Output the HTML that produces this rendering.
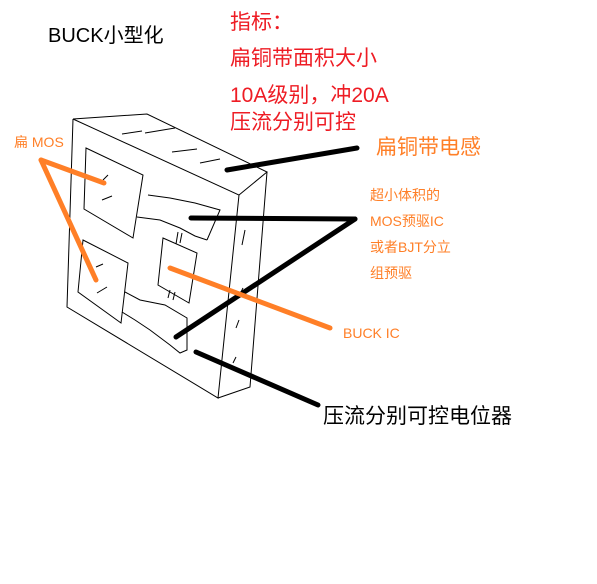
<!DOCTYPE html>
<html><head><meta charset="utf-8"><style>
html,body{margin:0;padding:0;background:#fff;}
svg{display:block;}
text{font-family:"Liberation Sans","Noto Sans CJK SC",sans-serif;}
</style></head><body>
<svg width="597" height="584" viewBox="0 0 597 584" xmlns="http://www.w3.org/2000/svg">
<rect width="597" height="584" fill="#fff"/>
<text x="48" y="42" font-size="20" fill="#000">BUCK小型化</text>
<g fill="#ee1c24" font-size="21">
<text x="230" y="29">指标：</text>
<text x="230" y="65">扁铜带面积大小</text>
<text x="230" y="102">10A级别，冲20A</text>
<text x="230" y="129">压流分别可控</text>
</g>
<g fill="#ff7f27">
<text x="376" y="154" font-size="21">扁铜带电感</text>
<text x="370" y="200" font-size="14">超小体积的</text>
<text x="370" y="226" font-size="14">MOS预驱IC</text>
<text x="370" y="252" font-size="14">或者BJT分立</text>
<text x="370" y="278" font-size="14">组预驱</text>
<text x="14" y="147" font-size="14">扁 MOS</text>
<text x="343" y="338" font-size="14">BUCK IC</text>
</g>
<text x="323" y="423" font-size="21" fill="#000">压流分别可控电位器</text>
<g fill="none" stroke="#000" stroke-width="1">
<polyline points="73,119 67,307 218,398 239,195 73,119"/>
<polyline points="73,119 147,114 267,172 239,195"/>
<polyline points="267,172 250,387 218,398"/>
<polygon points="86,148 143,175 133,238 84,209"/>
<polygon points="83,240 128,263 121,323 78,292"/>
<polygon points="163,238 197,253 189,303 158,285"/>
<polyline points="148,195 170,198 195,203 220,210 207,240"/>
<polyline points="137,217 160,220 180,228 195,236 207,240"/>
<polyline points="125,292 140,300 165,305 187,318 187,350 180,353 170,345 150,330 135,320 122,312"/>
<path d="M122,134 l20,-3 M145,133 l30,-5 M172,152 l25,-3 M200,163 l20,-4 M108,175 l-5,5 M102,200 l10,-4 M96,267 l7,-3 M97,293 l10,-6 M245,230 l-3,15 M243,288 l-3,6 M239,320 l-3,8 M236,357 l-3,6 M178,232 l-2,12 M182,233 l-2,10 M170,290 l-2,8 M175,292 l-2,8"/>
</g>
<g stroke="#000" stroke-width="5" stroke-linecap="round" fill="none">
<line x1="227" y1="170" x2="357" y2="148"/>
<line x1="191" y1="218" x2="355" y2="219"/>
<line x1="355" y1="219" x2="176" y2="337"/>
<line x1="196" y1="352" x2="318" y2="405"/>
</g>
<g stroke="#ff7f27" stroke-width="5" stroke-linecap="round" fill="none">
<line x1="41" y1="160" x2="104" y2="183"/>
<line x1="41" y1="160" x2="96" y2="280"/>
<line x1="170" y1="268" x2="330" y2="328"/>
</g>
</svg>
</body></html>
